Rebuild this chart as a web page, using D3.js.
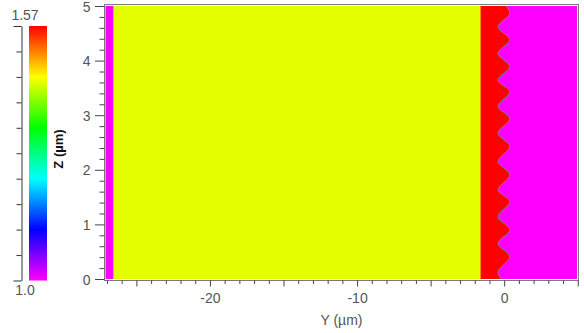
<!DOCTYPE html>
<html>
<head>
<meta charset="utf-8">
<script src="https://cdn.jsdelivr.net/npm/d3@7"></script>
<style>
  body { margin: 0; background: #fff; }
  svg { display: block; font-family: "Liberation Sans", Arial, sans-serif; }
</style>
</head>
<body>
<div id="chart"></div>
<script>
// index map Z(Y, z)
const zDomain = [0, 5];
const yDomain = [-27.1, 4.95];
const nDomain = [1.0, 1.57];

// flat layers from the left: start (um) and index
const layerNames = ["air", "silica", "polymer"];
const layerStart = [-27.1, -26.56, -1.61];
const layerIndex = [1.0, 1.444, 1.57];
const coverIndex = 1.0;

// grating surface: z of peaks / valleys and the Y of the edge there
const edgeZ = [0, 0.12, 0.41, 0.65, 0.9, 1.14, 1.42, 1.63, 1.91, 2.15, 2.43,
  2.67, 2.94, 3.16, 3.43, 3.64, 3.89, 4.13, 4.38, 4.62, 4.87, 5];
const edgeY = [-0.22, -0.42, 0.37, -0.42, 0.37, -0.42, 0.37, -0.42, 0.37, -0.42, 0.37,
  -0.42, 0.37, -0.42, 0.37, -0.42, 0.37, -0.42, 0.37, -0.42, 0.37, 0.12];

// ticks
const xLabelTicks = [-20, -10, 0];
const yLabelTicks = [0, 1, 2, 3, 4, 5];
const cbLabels = ["1.0", "1.57"];

const width = 584, height = 333;
const frame = { left: 104.5, top: 4.5, right: 578.5, bottom: 280.5 };

const svg = d3.select("#chart").append("svg")
  .attr("width", width)
  .attr("height", height);

//scales
const x = d3.scaleLinear().domain(yDomain).range([105.5, 577]);
const y = d3.scaleLinear().domain(zDomain).range([279, 6]);
const hue = d3.scaleLinear().domain(nDomain).range([300, 0]);
const color = (n) => d3.hsl(hue(n), 1, 0.5).formatHex();

//map
const map = svg.append("g");
const layers = layerStart.map((s, i) => ({
  name: layerNames[i],
  from: s,
  to: i < layerStart.length - 1 ? layerStart[i + 1] : yDomain[1],
  n: layerIndex[i],
}));

map.selectAll("rect.layer")
  .data(layers)
  .join("rect")
  .attr("class", "layer")
  .attr("x", (d) => x(d.from))
  .attr("width", (d) => x(d.to) - x(d.from))
  .attr("y", y(zDomain[1]))
  .attr("height", y(zDomain[0]) - y(zDomain[1]))
  .attr("fill", (d) => color(d.n));

const edge = edgeZ.map((z, i) => ({ z, y: edgeY[i] }));
const cover = d3.area()
  .y((d) => y(d.z))
  .x0((d) => x(d.y))
  .x1(x(yDomain[1]))
  .curve(d3.curveMonotoneY);

map.append("path")
  .datum(edge)
  .attr("fill", color(coverIndex))
  .attr("d", cover);

// smoothed transitions between the materials
map.append("path")
  .datum(edge)
  .attr("fill", "none")
  .attr("stroke", color(1.3))
  .attr("stroke-opacity", 0.45)
  .attr("stroke-width", 1)
  .attr("d", d3.line().y((d) => y(d.z)).x((d) => x(d.y)).curve(d3.curveMonotoneY));

map.selectAll("line.blend")
  .data(layers.slice(1))
  .join("line")
  .attr("class", "blend")
  .attr("x1", (d) => x(d.from))
  .attr("x2", (d) => x(d.from))
  .attr("y1", y(zDomain[1]))
  .attr("y2", y(zDomain[0]))
  .attr("stroke", (d, i) => color((d.n + layers[i].n) / 2))
  .attr("stroke-width", 1);

//frame
svg.append("rect")
  .attr("x", frame.left)
  .attr("y", frame.top)
  .attr("width", frame.right - frame.left)
  .attr("height", frame.bottom - frame.top)
  .attr("fill", "none")
  .attr("stroke", "#7a7a7a");

//x axis
const xTicks = d3.range(Math.ceil(yDomain[0]), 6);
const xAxis = svg.append("g")
  .attr("transform", `translate(0,${frame.bottom})`)
  .call(d3.axisBottom(x).tickValues(xTicks).tickSize(3)
    .tickFormat((d) => (xLabelTicks.includes(d) ? String(d) : "")));
xAxis.select(".domain").remove();
xAxis.selectAll(".tick line")
  .attr("stroke", "#444")
  .attr("y2", (d) => (d % 5 === 0 ? 6 : 3.5));
xAxis.selectAll(".tick text")
  .attr("y", 22)
  .attr("dy", 0)
  .attr("font-size", 14)
  .attr("font-family", "Liberation Sans, Arial, sans-serif")
  .attr("fill", "#555");

svg.append("text")
  .attr("x", (frame.left + frame.right) / 2)
  .attr("y", 325)
  .attr("text-anchor", "middle")
  .attr("font-size", 14)
  .attr("fill", "#555")
  .text("Y (\u00b5m)");

//y axis
const yTicks = d3.range(26).map((i) => i / 5);
const yAxis = svg.append("g")
  .attr("transform", `translate(${frame.left},0)`)
  .call(d3.axisLeft(y).tickValues(yTicks).tickSize(5)
    .tickFormat((d) => (yLabelTicks.includes(d) ? String(d) : "")));
yAxis.select(".domain").remove();
yAxis.selectAll(".tick line")
  .attr("stroke", "#444")
  .attr("x2", (d) => (Number.isInteger(d) ? -9.5 : -5));
yAxis.selectAll(".tick text")
  .attr("x", -14)
  .attr("dy", "0.36em")
  .attr("font-size", 14)
  .attr("font-family", "Liberation Sans, Arial, sans-serif")
  .attr("fill", "#555");

//colorbar
const cb = { x: 29, w: 18, top: 26, bottom: 280.5, axis: 21 };
const cbY = d3.scaleLinear().domain(nDomain).range([cb.bottom, cb.top]);

const grad = svg.append("defs").append("linearGradient")
  .attr("id", "cbGrad")
  .attr("x1", 0).attr("y1", 1).attr("x2", 0).attr("y2", 0);
grad.selectAll("stop")
  .data(d3.range(31).map((i) => i / 30))
  .join("stop")
  .attr("offset", (t) => t)
  .attr("stop-color", (t) => color(nDomain[0] + t * (nDomain[1] - nDomain[0])));

svg.append("rect")
  .attr("x", cb.x)
  .attr("y", cb.top)
  .attr("width", cb.w)
  .attr("height", cb.bottom - cb.top)
  .attr("fill", "url(#cbGrad)");

const cbTicks = d3.range(11).map((i) => nDomain[0] + (i * (nDomain[1] - nDomain[0])) / 10);
const cbAxis = svg.append("g")
  .attr("transform", `translate(${cb.axis + 0.5},0)`)
  .call(d3.axisLeft(cbY).tickValues(cbTicks).tickSize(5).tickSizeOuter(0).tickFormat(""));
cbAxis.select(".domain").attr("stroke", "#333");
cbAxis.selectAll(".tick line")
  .attr("stroke", "#333")
  .attr("x2", (d, i) => (i === 0 || i === cbTicks.length - 1 ? -8 : -5));

svg.selectAll("text.cblabel")
  .data(cbLabels)
  .join("text")
  .attr("class", "cblabel")
  .attr("x", 25)
  .attr("y", (d, i) => (i === 0 ? 295 : 20))
  .attr("text-anchor", "middle")
  .attr("font-size", 14)
  .attr("fill", "#555")
  .text((d) => d);

svg.append("text")
  .attr("transform", "translate(63,149) rotate(-90)")
  .attr("text-anchor", "middle")
  .attr("font-size", 13)
  .attr("font-weight", "bold")
  .attr("fill", "#111")
  .text("Z (\u00b5m)");
</script>
</body>
</html>
